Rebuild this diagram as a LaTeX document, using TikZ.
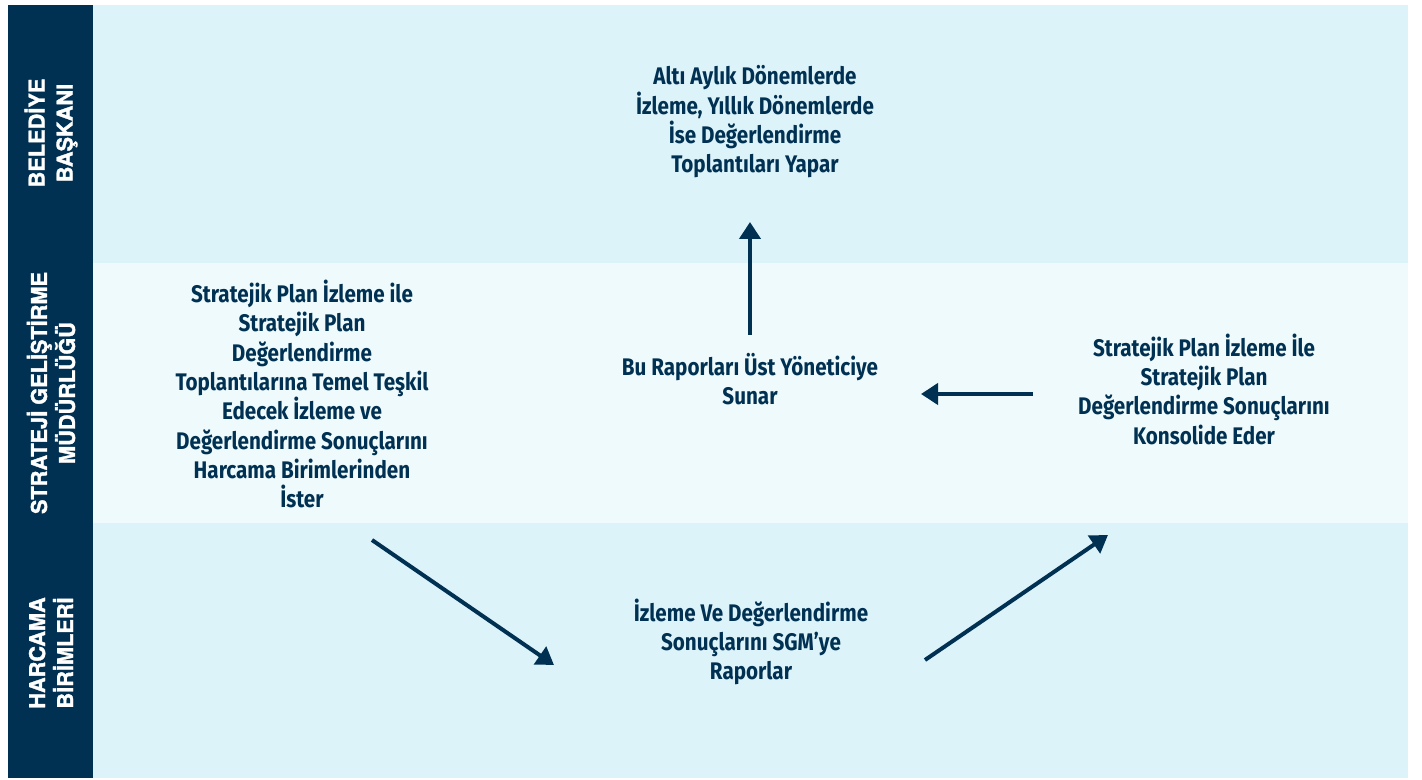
\documentclass[tikz,border=0pt]{standalone}
\usepackage{fontspec}
\setmainfont{Fira Sans}[FakeStretch=0.86]
\newfontfamily\lanefont{texgyreheros-bold.otf}[FakeBold=1.6]
\usetikzlibrary{arrows.meta}

\definecolor{navy}{RGB}{0,48,82}
\definecolor{bandblue}{RGB}{221,243,250}
\definecolor{bandpale}{RGB}{238,250,251}

\begin{document}
\begin{tikzpicture}[x=0.75pt, y=-0.75pt,
    task/.style={align=center, text=navy, font=\fontsize{18}{22}\selectfont\bfseries},
    lane/.style={align=center, text=white, rotate=90, font=\lanefont\fontsize{16.3}{21}\selectfont\bfseries},
    flow/.style={-{Triangle[length=12.75pt,width=15.75pt]}, line width=3pt, navy}]
  % Page
  \useasboundingbox (0,0) rectangle (1422,780);

  % Lanes
  \fill[bandblue] (93,5) rectangle (1408,263);
  \fill[bandpale] (93,263) rectangle (1408,523);
  \fill[bandblue] (93,523) rectangle (1408,778);
  \fill[navy] (8,5) rectangle (93,778);

  % Lane titles
  \node[lane] (baskan) at (51,133) {BELEDİYE\\BAŞKANI};
  \node[lane] (sgm) at (51,393) {STRATEJİ GELİŞTİRME\\MÜDÜRLÜĞÜ};
  \node[lane] (birim) at (51,653) {HARCAMA\\BİRİMLERİ};

  % Steps
  \node[task] (toplanti) at (755,122) {Altı Aylık Dönemlerde\\İzleme, Yıllık Dönemlerde\\İse Değerlendirme\\Toplantıları Yapar};
  \node[task] (ister) at (302,394) {Stratejik Plan İzleme ile\\Stratejik Plan\\Değerlendirme\\Toplantılarına Temel Teşkil\\Edecek İzleme ve\\Değerlendirme Sonuçlarını\\Harcama Birimlerinden\\İster};
  \node[task] (sunar) at (750,379) {Bu Raporları Üst Yöneticiye\\Sunar};
  \node[task] (konsolide) at (1204,389) {Stratejik Plan İzleme İle\\Stratejik Plan\\Değerlendirme Sonuçlarını\\Konsolide Eder};
  \node[task] (raporlar) at (751,642) {İzleme Ve Değerlendirme\\Sonuçlarını SGM’ye\\Raporlar};

  % Arrow ends
  \coordinate (a1) at (372,540);
  \coordinate (a2) at (554,665);
  \coordinate (b1) at (925,660);
  \coordinate (b2) at (1108,535);
  \coordinate (c1) at (1033,394);
  \coordinate (c2) at (921,394);
  \coordinate (d1) at (750,335);
  \coordinate (d2) at (750,222);

  % Flow
  \draw[flow] (a1) -- (a2);
  \draw[flow] (b1) -- (b2);
  \draw[flow] (c1) -- (c2);
  \draw[flow] (d1) -- (d2);
\end{tikzpicture}
\end{document}
